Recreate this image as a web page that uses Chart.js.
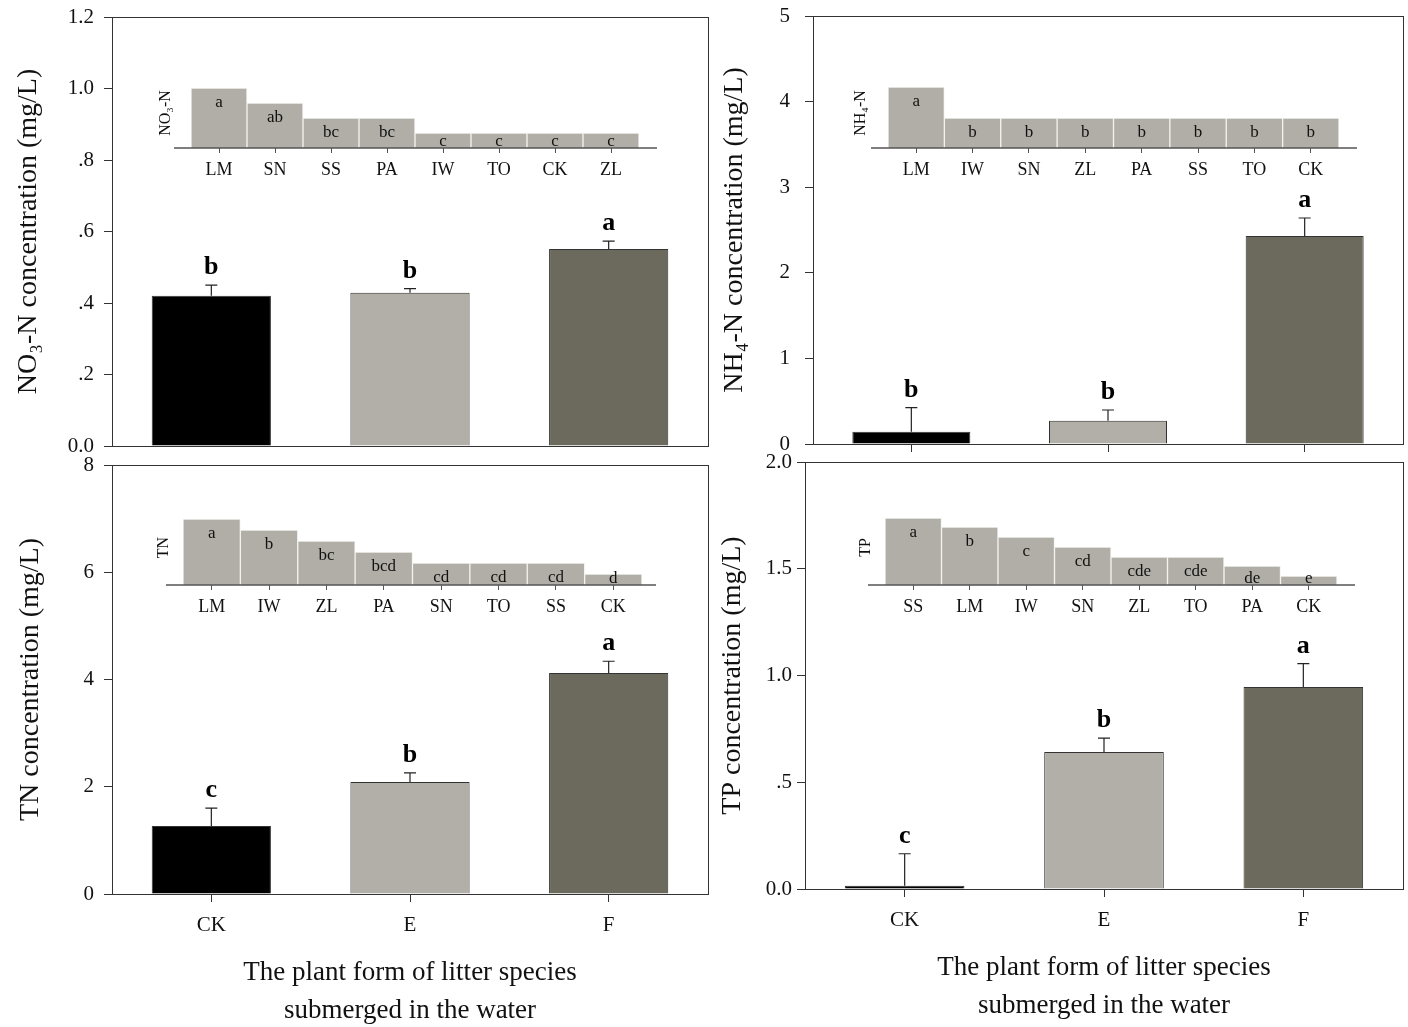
<!DOCTYPE html>
<html>
<head>
<meta charset="utf-8">
<script src="https://cdn.jsdelivr.net/npm/chart.js@4.4.1/dist/chart.umd.min.js"></script>
<style>
body { margin: 0; background: #fff; }
#wrap { position: relative; width: 1408px; height: 1027px; overflow: hidden; background: #fff; }
#wrap canvas { position: absolute; }
#tnMain, #tpMain { z-index: 2; }
#no3Inset, #nh4Inset, #tnInset, #tpInset { z-index: 3; }
</style>
</head>
<body>
<div id="wrap">
  <canvas id="no3Main"></canvas>
  <canvas id="nh4Main"></canvas>
  <canvas id="tnMain"></canvas>
  <canvas id="tpMain"></canvas>
  <canvas id="no3Inset"></canvas>
  <canvas id="nh4Inset"></canvas>
  <canvas id="tnInset"></canvas>
  <canvas id="tpInset"></canvas>
</div>
<script>
// groups on the main x axis
const groups = ['CK', 'E', 'F'];
const groupColors = ['#000000', '#b1afa7', '#6c6a5d'];
const xTitle = ['The plant form of litter species', 'submerged in the water'];

// NO3-N (mg/L)
const no3Mean = [0.42, 0.429, 0.551];
const no3Err = [0.03, 0.011, 0.022];
const no3Sig = ['b', 'b', 'a'];
const no3Ticks = ['0.0', '.2', '.4', '.6', '.8', '1.0', '1.2'];

// NH4-N (mg/L)
const nh4Mean = [0.144, 0.272, 2.43];
const nh4Err = [0.28, 0.125, 0.21];
const nh4Sig = ['b', 'b', 'a'];
const nh4Ticks = ['0', '1', '2', '3', '4', '5'];

// TN (mg/L)
const tnMean = [1.27, 2.09, 4.12];
const tnErr = [0.33, 0.17, 0.22];
const tnSig = ['c', 'b', 'a'];
const tnTicks = ['0', '2', '4', '6', '8'];

// TP (mg/L)
const tpMean = [0.015, 0.642, 0.946];
const tpErr = [0.15, 0.065, 0.11];
const tpSig = ['c', 'b', 'a'];
const tpTicks = ['0.0', '.5', '1.0', '1.5', '2.0'];

// insets: species ranking (relative heights, no axis in the original)
const no3Species = ['LM', 'SN', 'SS', 'PA', 'IW', 'TO', 'CK', 'ZL'];
const no3Rank = [60, 45, 30, 30, 15, 15, 15, 15];
const no3RankSig = ['a', 'ab', 'bc', 'bc', 'c', 'c', 'c', 'c'];

const nh4Species = ['LM', 'IW', 'SN', 'ZL', 'PA', 'SS', 'TO', 'CK'];
const nh4Rank = [61, 30, 30, 30, 30, 30, 30, 30];
const nh4RankSig = ['a', 'b', 'b', 'b', 'b', 'b', 'b', 'b'];

const tnSpecies = ['LM', 'IW', 'ZL', 'PA', 'SN', 'TO', 'SS', 'CK'];
const tnRank = [66, 55, 44, 33, 22, 22, 22, 11];
const tnRankSig = ['a', 'b', 'bc', 'bcd', 'cd', 'cd', 'cd', 'd'];

const tpSpecies = ['SS', 'LM', 'IW', 'SN', 'ZL', 'TO', 'PA', 'CK'];
const tpRank = [67, 58, 48, 38, 28, 28, 19, 9];
const tpRankSig = ['a', 'b', 'c', 'cd', 'cde', 'cde', 'de', 'e'];

Chart.defaults.font.family = "'Liberation Serif', 'Times New Roman', serif";
Chart.defaults.color = '#111';

// error bars (upper half only) and letters above them
const errBars = {
    id: 'errBars',
    afterDatasetsDraw(chart, args, opts) {
        const ctx = chart.ctx;
        const yScale = chart.scales.y;
        const bars = chart.getDatasetMeta(0).data;
        const mean = chart.data.datasets[0].data;
        ctx.save();
        bars.forEach(function(bar, i) {
            const top = yScale.getPixelForValue(mean[i] + opts.err[i]);
            ctx.strokeStyle = '#222';
            ctx.lineWidth = 1.2;
            ctx.beginPath();
            ctx.moveTo(bar.x, bar.y);
            ctx.lineTo(bar.x, top);
            ctx.moveTo(bar.x - 6, top);
            ctx.lineTo(bar.x + 6, top);
            ctx.stroke();
            ctx.fillStyle = '#000';
            ctx.font = "bold 26px 'Liberation Serif', serif";
            ctx.textAlign = 'center';
            ctx.textBaseline = 'alphabetic';
            ctx.fillText(opts.sig[i], bar.x, top - 11);
        });
        ctx.restore();
    }
};

// box round the plot area
const frame = {
    id: 'frame',
    afterDraw(chart) {
        const a = chart.chartArea;
        const ctx = chart.ctx;
        ctx.save();
        ctx.strokeStyle = '#333';
        ctx.lineWidth = 1;
        ctx.strokeRect(a.left + 0.5, a.top + 0.5, a.right - a.left, a.bottom - a.top);
        ctx.restore();
    }
};

// inset baseline, a bit longer than the bars, and letters inside bars
const insetMarks = {
    id: 'insetMarks',
    afterDatasetsDraw(chart, args, opts) {
        const a = chart.chartArea;
        const ctx = chart.ctx;
        ctx.save();
        ctx.strokeStyle = '#555';
        ctx.lineWidth = 1.5;
        ctx.beginPath();
        ctx.moveTo(a.left - opts.extL, a.bottom);
        ctx.lineTo(a.right + opts.extR, a.bottom);
        ctx.stroke();
        ctx.fillStyle = '#111';
        ctx.font = "17px 'Liberation Serif', serif";
        ctx.textAlign = 'center';
        ctx.textBaseline = 'middle';
        chart.getDatasetMeta(0).data.forEach(function(bar, i) {
            const y = Math.min(bar.y + 15, a.bottom - 6);
            ctx.fillText(opts.sig[i], bar.x, y);
        });
        ctx.restore();
    }
};

function place(id, box) {
    const el = document.getElementById(id);
    el.width = box.w;
    el.height = box.h;
    el.style.left = box.x + 'px';
    el.style.top = box.y + 'px';
    return el;
}

function makeMain(id, box, cfg) {
    const el = place(id, box);
    return new Chart(el, {
        type: 'bar',
        data: {
            labels: groups,
            datasets: [{
                data: cfg.mean,
                backgroundColor: groupColors,
                borderColor: '#333',
                borderWidth: 1,
                barPercentage: 0.6,
                categoryPercentage: 1
            }]
        },
        options: {
            responsive: false,
            animation: false,
            events: [],
            layout: { autoPadding: false, padding: { top: box.padTop, right: box.padRight, left: 0, bottom: 0 } },
            plugins: {
                legend: { display: false },
                tooltip: { enabled: false },
                errBars: { err: cfg.err, sig: cfg.sig }
            },
            scales: {
                x: {
                    grid: { display: true, drawOnChartArea: false, drawTicks: cfg.xTicks, tickLength: 8, offset: false, color: '#333' },
                    border: { color: '#333' },
                    ticks: { display: cfg.labels, padding: 11, font: { size: 21 }, color: '#111' },
                    title: { display: cfg.labels, text: xTitle, font: { size: 27, lineHeight: 1.4 }, padding: { top: 0, bottom: 0 }, color: '#111' },
                    afterFit: function(s) {
                        s.height = box.xh;
                        s.paddingLeft = 0;
                        s.paddingRight = 0;
                    }
                },
                y: {
                    min: 0,
                    max: cfg.max,
                    ticks: {
                        stepSize: cfg.step,
                        padding: box.tickPad,
                        font: { size: 21 },
                        color: '#111',
                        callback: function(v, i) { return cfg.tickText[i]; }
                    },
                    grid: { drawOnChartArea: false, tickLength: 8, color: '#333' },
                    border: { color: '#333' },
                    title: { display: true, text: cfg.title, font: { size: 28 }, padding: { top: box.titlePad, bottom: 0 }, color: '#111' },
                    afterFit: function(s) {
                        s.width = box.yw;
                        // tick labels may stick out of the plot, as in the original
                        s.paddingTop = 0;
                        s.paddingBottom = 0;
                    }
                }
            }
        },
        plugins: [errBars, frame]
    });
}

function makeInset(id, box, cfg) {
    const el = place(id, box);
    return new Chart(el, {
        type: 'bar',
        data: {
            labels: cfg.species,
            datasets: [{
                data: cfg.vals,
                backgroundColor: '#b0aea6',
                borderColor: '#f2f2ef',
                borderWidth: 1,
                barPercentage: 1,
                categoryPercentage: 1
            }]
        },
        options: {
            responsive: false,
            animation: false,
            events: [],
            layout: { autoPadding: false, padding: { top: box.padTop, right: box.padRight, left: 0, bottom: 0 } },
            plugins: {
                legend: { display: false },
                tooltip: { enabled: false },
                insetMarks: { sig: cfg.sig, extL: box.extL, extR: box.extR }
            },
            scales: {
                x: {
                    grid: { display: true, drawOnChartArea: false, tickLength: 5, offset: false, color: '#555' },
                    border: { display: false },
                    ticks: { padding: 6, font: { size: 18 }, color: '#111' },
                    afterFit: function(s) {
                        s.height = box.xh;
                        s.paddingLeft = 0;
                        s.paddingRight = 0;
                    }
                },
                y: {
                    min: 0,
                    max: box.max,
                    ticks: { display: false },
                    grid: { display: false },
                    border: { display: false },
                    title: { display: true, text: cfg.title, font: { size: 16 }, padding: { top: box.titlePad, bottom: 0 }, color: '#111' },
                    afterFit: function(s) {
                        s.width = box.yw;
                        s.paddingTop = 0;
                        s.paddingBottom = 0;
                    }
                }
            }
        },
        plugins: [insetMarks]
    });
}

makeMain('no3Main',
    { x: 0, y: 0, w: 712, h: 456, padTop: 17, padRight: 4, yw: 112, xh: 10, titlePad: 12, tickPad: 10 },
    { mean: no3Mean, err: no3Err, sig: no3Sig, max: 1.2, step: 0.2, tickText: no3Ticks,
      title: 'NO\u2083-N concentration (mg/L)', xTicks: false, labels: false });

makeMain('nh4Main',
    { x: 700, y: 0, w: 708, h: 456, padTop: 16, padRight: 5, yw: 113, xh: 12, titlePad: 18, tickPad: 15 },
    { mean: nh4Mean, err: nh4Err, sig: nh4Sig, max: 5, step: 1, tickText: nh4Ticks,
      title: 'NH\u2084-N concentration (mg/L)', xTicks: true, labels: false });

makeMain('tnMain',
    { x: 0, y: 430, w: 712, h: 600, padTop: 35, padRight: 4, yw: 112, xh: 136, titlePad: 14, tickPad: 10 },
    { mean: tnMean, err: tnErr, sig: tnSig, max: 8, step: 2, tickText: tnTicks,
      title: 'TN concentration (mg/L)', xTicks: true, labels: true });

makeMain('tpMain',
    { x: 700, y: 430, w: 708, h: 595, padTop: 32, padRight: 5, yw: 105, xh: 136, titlePad: 16, tickPad: 5 },
    { mean: tpMean, err: tpErr, sig: tpSig, max: 2, step: 0.5, tickText: tpTicks,
      title: 'TP concentration (mg/L)', xTicks: true, labels: true });

makeInset('no3Inset',
    { x: 150, y: 70, w: 520, h: 118, padTop: 8, padRight: 31, yw: 41, xh: 40, titlePad: 6, extL: 17, extR: 18, max: 70 },
    { species: no3Species, vals: no3Rank, sig: no3RankSig, title: 'NO\u2083-N' });

makeInset('nh4Inset',
    { x: 840, y: 70, w: 530, h: 118, padTop: 8, padRight: 31, yw: 48, xh: 40, titlePad: 11, extL: 17, extR: 18, max: 70 },
    { species: nh4Species, vals: nh4Rank, sig: nh4RankSig, title: 'NH\u2084-N' });

makeInset('tnInset',
    { x: 150, y: 500, w: 520, h: 125, padTop: 10, padRight: 28, yw: 33, xh: 40, titlePad: 4, extL: 17, extR: 14, max: 75 },
    { species: tnSpecies, vals: tnRank, sig: tnRankSig, title: 'TN' });

makeInset('tpInset',
    { x: 840, y: 500, w: 530, h: 125, padTop: 10, padRight: 33, yw: 45, xh: 40, titlePad: 16, extL: 17, extR: 18, max: 75 },
    { species: tpSpecies, vals: tpRank, sig: tpRankSig, title: 'TP' });
</script>
</body>
</html>
